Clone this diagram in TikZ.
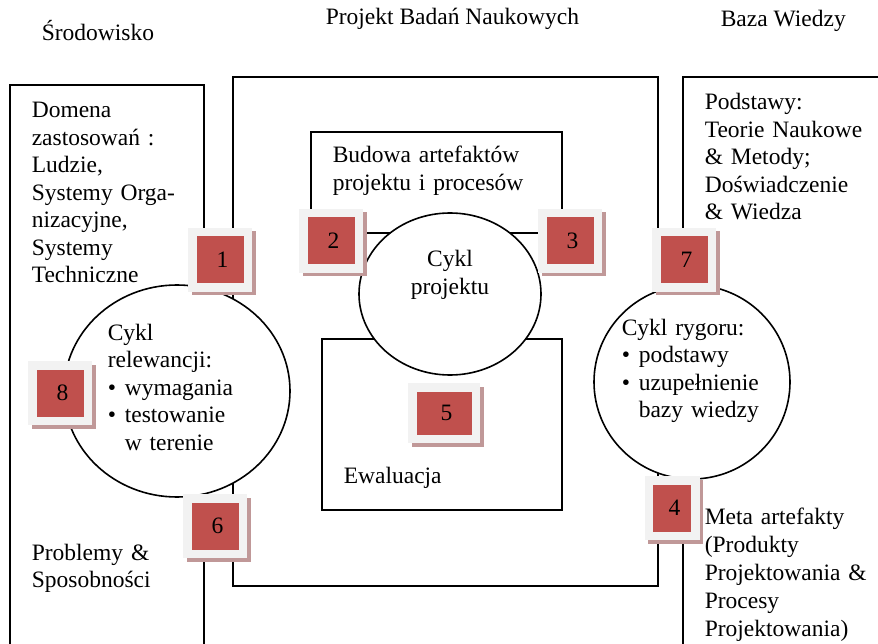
\documentclass[tikz,border=0pt]{standalone}
\usepackage{fontspec}
\setmainfont{Liberation Serif}
\usetikzlibrary{shapes.geometric,shadows}

\definecolor{boxred}{RGB}{192,80,77}
\definecolor{boxframe}{RGB}{242,242,242}
\definecolor{boxshadow}{RGB}{192,152,152}
\newcommand{\bigtext}{\fontsize{23.5}{27.5}\selectfont}
\newcommand{\bul}{\makebox[17pt][l]{\textbullet}}
\newcommand{\marknum}[1]{\raisebox{-4pt}{\kern5pt#1}}

\begin{document}
\begin{tikzpicture}[x=1pt, y=-1pt, line width=1.6pt,
    cyc/.style={ellipse, draw, fill=white, inner sep=0pt},
    numbox/.style={rectangle, fill=boxred, draw=boxframe, line width=8.5pt,
      minimum width=55.5pt, minimum height=55.5pt, inner sep=0pt, font=\bigtext,
      drop shadow={shadow xshift=3.5pt, shadow yshift=-3.5pt, fill=boxshadow,
        draw=boxshadow, opacity=1}},
    txt/.style={anchor=base west, inner sep=0pt, align=left, font=\bigtext}]

    \useasboundingbox (0,0) rectangle (878,644);

    % titles above the three areas
    \node[txt] (env) at (41,41) {Środowisko};
    \node[txt] (prj) at (325,25) {Projekt Badań Naukowych};
    \node[txt] (kb) at (720,27) {Baza Wiedzy};

    % area outlines
    \draw (204,660) -- (204,85) -- (10,85) -- (10,660);
    \draw (233,77) rectangle (658,586);
    \draw (890,77) -- (683,77) -- (683,660);
    \draw (311,132) rectangle (562,233);
    \draw (322,339) rectangle (562,510);

    % the three cycles
    \node[cyc, minimum width=226pt, minimum height=212pt] (relcyc) at (177,391) {};
    \node[cyc, minimum width=182pt, minimum height=162pt] (dsgcyc) at (450,294) {};
    \node[cyc, minimum width=196pt, minimum height=194pt] (rigcyc) at (692,382) {};

    % numbered markers
    \foreach \n/\x/\y in {1/220/260, 2/331/241, 3/570/241, 6/215/526, 7/684/260, 8/60/393}
        \node[numbox] (b\n) at (\x,\y) {\marknum{\n}};
    \node[numbox, minimum width=46.5pt, minimum height=55.5pt] (b4) at (672,508) {\marknum{4}};
    \node[numbox, minimum width=63.5pt, minimum height=51.5pt] (b5) at (444,413) {\marknum{5}};

    % texts
    \node[txt, text width=170pt] (domain) at (31,118)
        {Domena\\zastosowań :\\Ludzie,\\Systemy Orga-\\nizacyjne,\\Systemy\\Techniczne};
    \node[txt, text width=230pt] (build) at (332,163)
        {Budowa artefaktów\\projektu i procesów};
    \node[txt, text width=170pt] (found) at (704,110)
        {Podstawy:\\Teorie Naukowe\\\& Metody;\\Doświadczenie\\\& Wiedza};
    \node[txt, text width=100pt, align=center, anchor=base] (dsgtxt) at (450,267)
        {Cykl\\projektu};
    \node[txt, text width=160pt] (reltxt) at (107,340)
        {Cykl\\relewancji:\\\bul wymagania\\\bul testowanie\\\hspace*{17pt}w terenie};
    \node[txt, text width=170pt] (rigtxt) at (621,335)
        {Cykl rygoru:\\\bul podstawy\\\bul uzupełnienie\\\hspace*{17pt}bazy wiedzy};
    \node[txt] (eval) at (343,483) {Ewaluacja};
    \node[txt, text width=170pt] (probl) at (31,560) {Problemy \&\\Sposobności};
    \node[txt, text width=175pt, font=\fontsize{23.5}{28}\selectfont] (meta) at (704,524)
        {Meta artefakty\\(Produkty\\Projektowania \&\\Procesy\\Projektowania)};
\end{tikzpicture}
\end{document}
